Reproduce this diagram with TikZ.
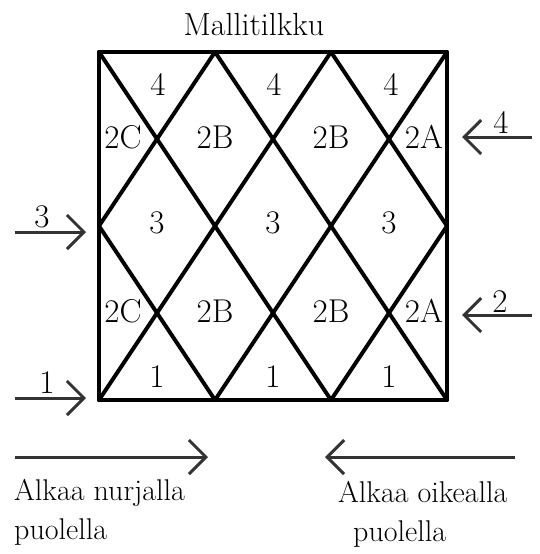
\documentclass[tikz,border=0pt]{standalone}
\usetikzlibrary{arrows.meta}
\begin{document}
\begin{tikzpicture}[x=1pt,y=-1pt,
  grid/.style={line width=4pt,line cap=round,line join=round},
  lbl/.style={font=\fontsize{33}{36}\selectfont,anchor=base,inner sep=0pt},
  ttl/.style={font=\fontsize{32}{36}\selectfont,anchor=base,inner sep=0pt},
  txt/.style={font=\fontsize{30}{34}\selectfont,anchor=base west,inner sep=0pt},
  arr/.style={line width=3pt,draw=black!80,-{Straight Barb[length=17pt,width=34pt,line width=3pt]}}]
\useasboundingbox (0,0) rectangle (539,554);
% vertices
\foreach \i/\x in {0/99,1/215,2/331,3/447}{
  \coordinate (t\i) at (\x,52);
  \coordinate (m\i) at (\x,226);
  \coordinate (b\i) at (\x,400);
}
\draw[grid] (t0) -- (t3) -- (b3) -- (b0) -- cycle;
\draw[grid] (t0) -- (m1) -- (t2) -- (m3);
\draw[grid] (m0) -- (t1) -- (m2) -- (t3);
\draw[grid] (m0) -- (b1) -- (m2) -- (b3);
\draw[grid] (b0) -- (m1) -- (b2) -- (m3);
% title
\node[ttl] (title) at (254,35) {Mallitilkku};
% cell labels
\node[lbl] (f1) at (158,95) {4};
\node[lbl] (f2) at (274,95) {4};
\node[lbl] (f3) at (391,95) {4};
\node[lbl] (c1) at (123,148) {2C};
\node[lbl] (bb1) at (215,148) {2B};
\node[lbl] (bb2) at (331,148) {2B};
\node[lbl] (a1) at (424,148) {2A};
\node[lbl] (th1) at (157,233) {3};
\node[lbl] (th2) at (273,233) {3};
\node[lbl] (th3) at (389,233) {3};
\node[lbl] (c2) at (123,322) {2C};
\node[lbl] (bb3) at (215,322) {2B};
\node[lbl] (bb4) at (331,322) {2B};
\node[lbl] (a2) at (424,322) {2A};
\node[lbl] (o1) at (157,387) {1};
\node[lbl] (o2) at (273,387) {1};
\node[lbl] (o3) at (389,387) {1};
% side arrows
\coordinate (l3s) at (15,232); \coordinate (l3e) at (86,232);
\coordinate (l1s) at (15,398); \coordinate (l1e) at (86,398);
\coordinate (r4s) at (532,137); \coordinate (r4e) at (462,137);
\coordinate (r2s) at (532,315); \coordinate (r2e) at (462,315);
\draw[arr] (l3s) -- (l3e);
\draw[arr] (l1s) -- (l1e);
\draw[arr] (r4s) -- (r4e);
\draw[arr] (r2s) -- (r2e);
\node[lbl] (n3) at (42,227) {3};
\node[lbl] (n1) at (47,393) {1};
\node[lbl] (n4) at (501,133) {4};
\node[lbl] (n2) at (500,312) {2};
% bottom arrows
\coordinate (bls) at (15,457); \coordinate (ble) at (208,457);
\coordinate (brs) at (515,457); \coordinate (bre) at (325,457);
\draw[arr] (bls) -- (ble);
\draw[arr] (brs) -- (bre);
\node[txt] (t1a) at (14,500) {Alkaa nurjalla};
\node[txt] (t1b) at (14,539) {puolella};
\node[txt] (t2a) at (338,502) {Alkaa oikealla};
\node[txt] (t2b) at (353,541) {puolella};
\end{tikzpicture}
\end{document}
